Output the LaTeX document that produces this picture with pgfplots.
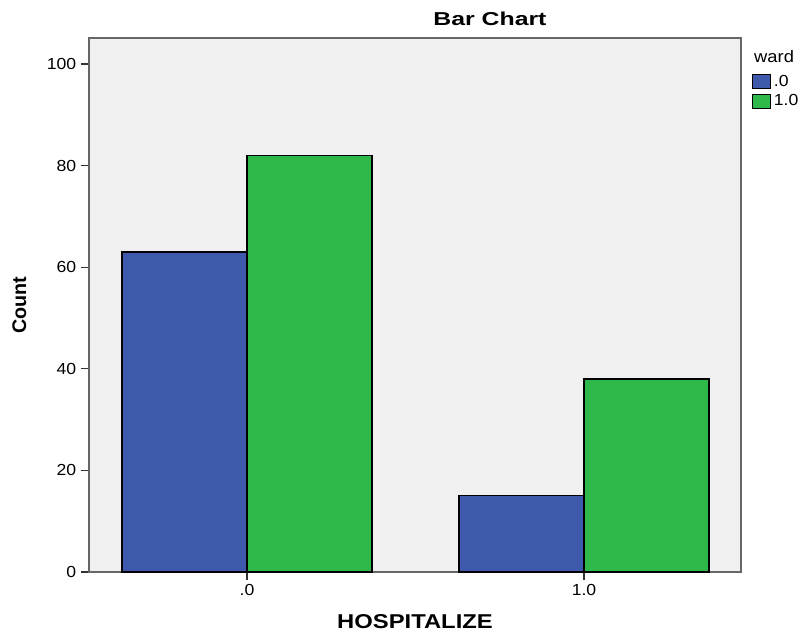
\documentclass[border=0pt]{standalone}
\usepackage{fontspec}
\setmainfont{Liberation Sans}
\newfontfamily\tickfont[FakeStretch=1.1]{Liberation Sans}
\newfontfamily\titlefont[FakeStretch=1.33]{Liberation Sans}
\newfontfamily\xlabfont[FakeStretch=1.19]{Liberation Sans}
\usepackage{pgfplots}
\pgfplotsset{compat=1.18}
\definecolor{bblue}{HTML}{3E58AC}
\definecolor{bgreen}{HTML}{2EB84A}
\definecolor{bgfill}{HTML}{F0F0F0}
\begin{document}
\begin{tikzpicture}
\begin{axis}[
  at={(66.75pt,45pt)}, anchor=south west,
  scale only axis, width=489pt, height=400.5pt,
  clip=false,
  ybar=0pt, bar width=0.371,
  xmin=-0.469, xmax=1.466, ymin=0, ymax=105.1,
  xtick={0,1}, xticklabels={.0,1.0},
  ytick={0,20,40,60,80,100},
  tick align=outside, major tick length=6pt, tick pos=left,
  tick style={black!80, line width=0.9pt},
  axis background/.style={fill=bgfill},
  axis line style={draw=black!60, line width=1pt},
  /pgf/number format/assume math mode=true,
  ticklabel style={font=\tickfont\fontsize{12}{14}\selectfont},
  title={Bar Chart},
  title style={font=\titlefont\fontsize{14}{16}\selectfont\bfseries, at={(axis description cs:0.615,1)}, anchor=base, yshift=3pt},
  xlabel={HOSPITALIZE},
  xlabel style={font=\xlabfont\fontsize{15}{17}\selectfont\bfseries, at={(axis description cs:0.5,0)}, anchor=base, yshift=-42pt},
  ylabel={Count},
  ylabel style={font=\fontsize{14.8}{17}\selectfont\bfseries, at={(axis description cs:-0.107,0.5)}, anchor=center},
  legend style={at={(rel axis cs:1.0169,0.936)}, anchor=north west, draw=none, fill=none,
    font=\tickfont\fontsize{12}{14}\selectfont, inner sep=0pt, row sep=0.8pt, cells={anchor=west},
    /tikz/every even column/.append style={column sep=3pt}},
  legend image code/.code={\draw[#1, draw=black, line width=0.75pt] (0pt,-5.25pt) rectangle (13.5pt,5.25pt);},
]
\addplot[fill=bblue, draw=black, line width=1pt] coordinates {(0,63) (1,15)};
\addlegendentry{.0}
\addplot[fill=bgreen, draw=black, line width=1pt] coordinates {(0,82) (1,38)};
\addlegendentry{1.0}
\node[anchor=base west, inner sep=0pt, font=\tickfont\fontsize{12.5}{14}\selectfont] at (rel axis cs:1.0199,0.955) {ward};
\end{axis}
\pgfresetboundingbox
\path (0,0) rectangle (600pt,474pt);
\end{tikzpicture}
\end{document}
